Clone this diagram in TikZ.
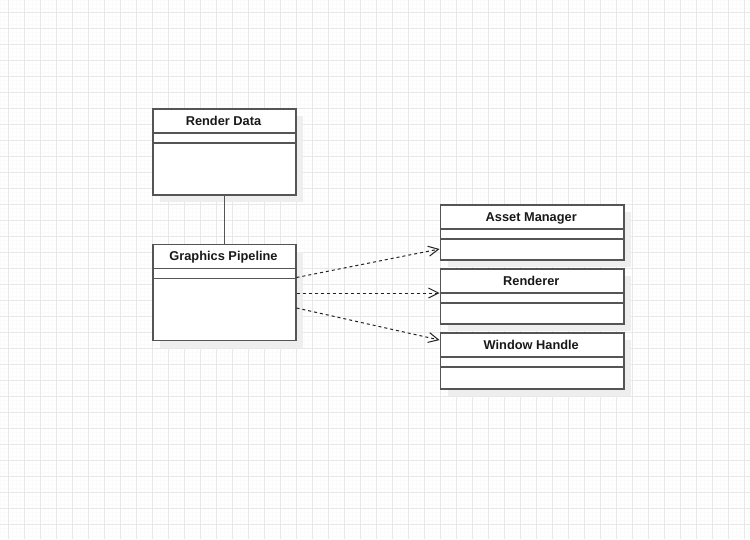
\documentclass[tikz,border=0pt]{standalone}
\usepackage{fontspec}
\setmainfont{Liberation Sans}
\usetikzlibrary{arrows.meta,calc}
\definecolor{gridmaj}{HTML}{E8E8E8}
\definecolor{gridmin}{HTML}{FBFBFB}
\definecolor{boxc}{HTML}{555555}
\definecolor{shadowc}{HTML}{EEEEEE}
\definecolor{dashc}{HTML}{222222}
\tikzset{
  classbox/.style={draw=boxc, line width=1.5pt, fill=white, rectangle, anchor=north west, inner sep=0pt},
  classtitle/.style={font=\bfseries\fontsize{12.8}{14}\selectfont, text=black!90, inner sep=0pt, anchor=base},
  divider/.style={draw=boxc, line width=1.5pt},
  assoc/.style={draw=boxc, line width=1.5pt},
  depend/.style={draw=dashc, line width=1pt, dash pattern=on 3pt off 3pt, -{Straight Barb[length=10pt,width=10pt,line width=1pt]}},
}
\newcommand{\umlclassbox}[6]{%
  \fill[shadowc] (#2+8,#3+8) rectangle (#2+#4+8,#3+#5+8);
  \node[classbox, minimum width=#4pt, minimum height=#5pt] (#1) at (#2,#3) {};
  \node[classtitle] (#1-t) at (#2+#4/2,#3+17) {#6};
  \draw[divider] (#2,#3+25) -- (#2+#4,#3+25);
  \draw[divider] (#2,#3+35) -- (#2+#4,#3+35);
}
\begin{document}
\begin{tikzpicture}[x=1pt,y=-1pt]
\useasboundingbox (0,0) rectangle (750,539);
\fill[white] (0,0) rectangle (750,539);
\foreach \i in {0,4,...,748} {\draw[gridmin, line width=0.5pt] (\i,0) -- (\i,539);}
\foreach \j in {0,4,...,536} {\draw[gridmin, line width=0.5pt] (0,\j) -- (750,\j);}
\foreach \i in {8,24,...,744} {\draw[gridmaj, line width=0.9pt] (\i,0) -- (\i,539);}
\foreach \j in {12,28,...,536} {\draw[gridmaj, line width=0.9pt] (0,\j) -- (750,\j);}

\umlclassbox{rd}{152}{108}{143}{86}{Render Data}
\umlclassbox{gp}{152}{243.5}{143}{96}{Graphics Pipeline}
\umlclassbox{am}{439.5}{204}{183.5}{55}{Asset Manager}
\umlclassbox{rn}{439.5}{268}{183.5}{55}{Renderer}
\umlclassbox{wh}{439.5}{332}{183.5}{56}{Window Handle}

\draw[assoc] (rd.south) -- (gp.north);

\coordinate (gp1) at ($(gp.north east)+(0,34)$);
\coordinate (gp2) at ($(gp.north east)+(0,49.5)$);
\coordinate (gp3) at ($(gp.north east)+(0,64.5)$);
\coordinate (am1) at ($(am.north west)+(0,45)$);
\coordinate (rn1) at ($(rn.north west)+(0,25)$);
\coordinate (wh1) at ($(wh.north west)+(0,8)$);
\draw[depend] (gp1) -- (am1);
\draw[depend] (gp2) -- (rn1);
\draw[depend] (gp3) -- (wh1);
\end{tikzpicture}
\end{document}
